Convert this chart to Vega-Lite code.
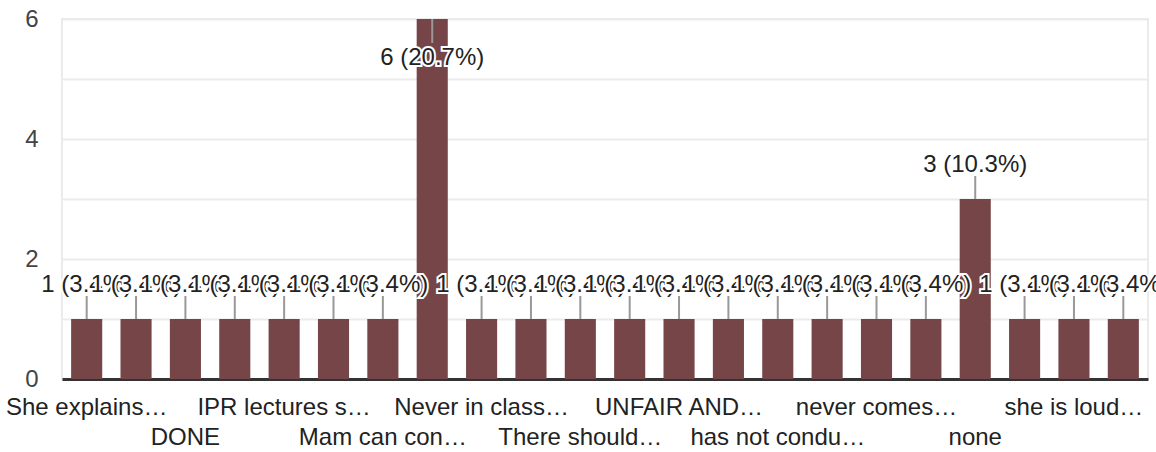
{
  "$schema": "https://vega.github.io/schema/vega-lite/v6.json",
  "width": 1086,
  "height": 360,
  "autosize": "none",
  "padding": {"left": 62, "top": 19, "right": 8, "bottom": 73},
  "background": "white",
  "config": {
    "view": {"stroke": "#ebebeb", "strokeWidth": 2},
    "font": "Liberation Sans"
  },
  "data": {
    "values": [
      {"order": 1, "response": "She explains…", "count": 1, "percent": 3.4},
      {"order": 2, "response": "All good", "count": 1, "percent": 3.4},
      {"order": 3, "response": "DONE", "count": 1, "percent": 3.4},
      {"order": 4, "response": "Good", "count": 1, "percent": 3.4},
      {"order": 5, "response": "IPR lectures s…", "count": 1, "percent": 3.4},
      {"order": 6, "response": "Less interactive", "count": 1, "percent": 3.4},
      {"order": 7, "response": "Mam can con…", "count": 1, "percent": 3.4},
      {"order": 8, "response": "NA", "count": 6, "percent": 20.7},
      {"order": 9, "response": "Never in class…", "count": 1, "percent": 3.4},
      {"order": 10, "response": "No", "count": 1, "percent": 3.4},
      {"order": 11, "response": "There should…", "count": 1, "percent": 3.4},
      {"order": 12, "response": "Too fast", "count": 1, "percent": 3.4},
      {"order": 13, "response": "UNFAIR AND…", "count": 1, "percent": 3.4},
      {"order": 14, "response": "good", "count": 1, "percent": 3.4},
      {"order": 15, "response": "has not condu…", "count": 1, "percent": 3.4},
      {"order": 16, "response": "lectures are…", "count": 1, "percent": 3.4},
      {"order": 17, "response": "never comes…", "count": 1, "percent": 3.4},
      {"order": 18, "response": "no", "count": 1, "percent": 3.4},
      {"order": 19, "response": "none", "count": 3, "percent": 10.3},
      {"order": 20, "response": "nothing", "count": 1, "percent": 3.4},
      {"order": 21, "response": "she is loud…", "count": 1, "percent": 3.4},
      {"order": 22, "response": "very good", "count": 1, "percent": 3.4}
    ]
  },
  "encoding": {
    "x": {
      "field": "order",
      "type": "ordinal",
      "scale": {"paddingInner": 0.37, "paddingOuter": 0.185},
      "axis": {"labels": false, "ticks": false, "title": null, "grid": false, "domainColor": "#333333", "domainWidth": 3}
    }
  },
  "layer": [
    {
      "mark": {"type": "bar", "color": "#764547"},
      "encoding": {
        "y": {
          "field": "count",
          "type": "quantitative",
          "scale": {"domain": [0, 6], "nice": false},
          "axis": {
            "values": [0, 1, 2, 3, 4, 5, 6],
            "format": "d",
            "labelExpr": "datum.value % 2 === 0 ? datum.label : ''",
            "domain": false,
            "ticks": false,
            "title": null,
            "gridColor": "#ebebeb",
            "gridWidth": 2,
            "labelFontSize": 24,
            "labelFont": "Liberation Sans",
            "labelColor": "#444444",
            "labelPadding": 24
          }
        }
      }
    },
    {
      "transform": [{"filter": "datum.count < 6"}],
      "mark": {"type": "rule", "color": "#999999", "strokeWidth": 2, "yOffset": -23, "y2Offset": 0},
      "encoding": {
        "y": {"field": "count", "type": "quantitative"},
        "y2": {"field": "count"}
      }
    },
    {
      "transform": [{"filter": "datum.count >= 6"}],
      "mark": {"type": "rule", "color": "#999999", "strokeWidth": 2, "yOffset": 0, "y2Offset": 24},
      "encoding": {
        "y": {"field": "count", "type": "quantitative"},
        "y2": {"field": "count"}
      }
    },
    {
      "transform": [
        {"filter": "datum.count < 6"},
        {"calculate": "datum.count + ' (' + format(datum.percent, '.1f') + '%)'", "as": "label"},
        {"fold": ["count", "percent"], "as": ["part", "partValue"]}
      ],
      "mark": {"type": "text", "fontSize": 24, "font": "Liberation Sans", "baseline": "alphabetic", "align": "center", "dy": -27},
      "encoding": {
        "y": {"field": "count", "type": "quantitative"},
        "text": {"field": "label"},
        "fill": {"condition": {"test": "datum.part === 'count'", "value": "white"}, "value": "#222222"},
        "stroke": {"condition": {"test": "datum.part === 'count'", "value": "white"}, "value": "transparent"},
        "strokeWidth": {"condition": {"test": "datum.part === 'count'", "value": 4}, "value": 0}
      }
    },
    {
      "transform": [
        {"filter": "datum.count >= 6"},
        {"calculate": "datum.count + ' (' + format(datum.percent, '.1f') + '%)'", "as": "label"},
        {"fold": ["count", "percent"], "as": ["part", "partValue"]}
      ],
      "mark": {"type": "text", "fontSize": 24, "font": "Liberation Sans", "baseline": "alphabetic", "align": "center", "dy": 46},
      "encoding": {
        "y": {"field": "count", "type": "quantitative"},
        "text": {"field": "label"},
        "fill": {"condition": {"test": "datum.part === 'count'", "value": "white"}, "value": "#222222"},
        "stroke": {"condition": {"test": "datum.part === 'count'", "value": "white"}, "value": "transparent"},
        "strokeWidth": {"condition": {"test": "datum.part === 'count'", "value": 4}, "value": 0}
      }
    },
    {
      "transform": [{"filter": "datum.order % 4 === 1"}],
      "mark": {"type": "text", "fontSize": 24, "font": "Liberation Sans", "baseline": "alphabetic", "align": "center", "dy": 36, "color": "#222222"},
      "encoding": {
        "y": {"datum": 0},
        "text": {"field": "response"}
      }
    },
    {
      "transform": [{"filter": "datum.order % 4 === 3"}],
      "mark": {"type": "text", "fontSize": 24, "font": "Liberation Sans", "baseline": "alphabetic", "align": "center", "dy": 66, "color": "#222222"},
      "encoding": {
        "y": {"datum": 0},
        "text": {"field": "response"}
      }
    }
  ]
}
